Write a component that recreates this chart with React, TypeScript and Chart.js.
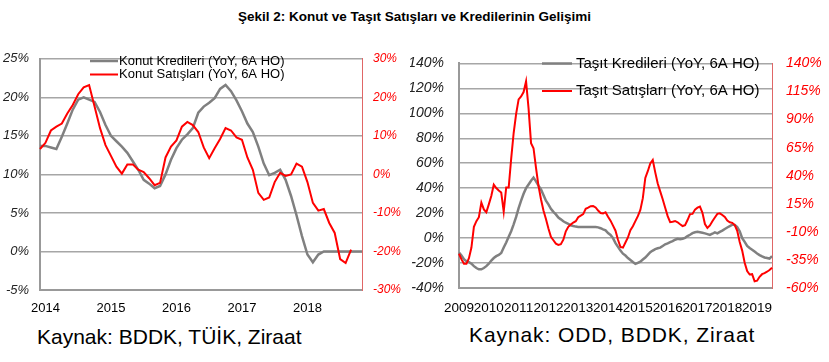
import React, { useEffect, useRef } from 'react';
import { Chart, registerables } from 'chart.js';

Chart.register(...registerables);

const FONT = '"Liberation Sans", Arial, sans-serif';

const titleText = 'Şekil 2: Konut ve Taşıt Satışları ve Kredilerinin Gelişimi';
const leftSource = 'Kaynak: BDDK, TÜİK, Ziraat';
const rightSource = 'Kaynak: ODD, BDDK, Ziraat';

// ---- Left panel (Konut) ----
const konutYears = ['2014', '2015', '2016', '2017', '2018'];
const konutLabels = ['Konut Kredileri (YoY, 6A HO)', 'Konut Satışları (YoY, 6A HO)'];
// monthly, starting 2013-12
const konutKredileri = [
  13.7, 13.7, 13.5, 13.3, 14.9, 16.6, 18.4, 19.7, 20.0, 19.7,
  19.4, 18.1, 16.4, 15.0, 14.3, 13.6, 12.8, 11.7, 10.6, 9.3,
  8.8, 8.2, 8.5, 10.0, 11.9, 13.4, 14.5, 15.2, 16.0, 18.0,
  18.8, 19.3, 19.9, 21.1, 21.6, 20.8, 19.6, 18.2, 16.6, 15.5,
  13.6, 11.4, 9.9, 10.2, 10.6, 9.3, 7.2, 4.7, 2.0, -0.4,
  -1.4, -0.4, 0, 0, 0, 0, 0, 0, 0, 0,
];
const konutSatislari = [
  6.6, 8.2, 11.4, 12.4, 13.2, 15.8, 18.0, 20.8, 22.6, 23.2,
  17.6, 12.0, 7.6, 4.8, 2.0, 0.2, 2.6, 2.6, 1.2, 0.6,
  -1.0, -2.8, -2.2, 4.4, 7.2, 8.8, 12.4, 13.6, 12.8, 11.0,
  7.0, 4.2, 6.8, 9.2, 12.0, 11.4, 9.6, 9.0, 4.4, 1.2,
  -4.8, -6.6, -6.0, -2.0, 0.4, -0.4, 0, 2.8, 2.0, -2.0,
  -7.4, -9.4, -9.0, -12.6, -15.2, -22.0, -23.0, -19.5,
];

// ---- Right panel (Taşıt) ----
const tasitYears = ['2009', '2010', '2011', '2012', '2013', '2014', '2015', '2016', '2017', '2018', '2019'];
const tasitLabels = ['Taşıt Kredileri (YoY, 6A HO)', 'Taşıt Satışları (YoY, 6A HO)'];
// monthly, starting 2009-01
const tasitKredileri = [
  -11.5, -14, -17, -18.5, -19.3, -20.5, -22.5, -24, -25, -25,
  -24, -22.5, -20.5, -18, -16, -14.5, -13.5, -12, -7.5, -3.5,
  1, 5.5, 11, 17, 24, 30, 35.5, 40, 43, 46,
  48.5, 45.5, 42, 39, 34.5, 30, 27, 23.5, 21, 19,
  16.4, 15, 13.5, 12.3, 11.4, 10.3, 9.7, 9.2, 8.9, 8.9,
  8.9, 8.9, 8.9, 8.9, 8.9, 8.9, 8.6, 7.9, 7, 6.2,
  4, 2.5, 0, -4, -7, -10, -12.5, -14, -16, -17.6,
  -19.2, -20.7, -19.8, -18.9, -17.2, -15.6, -13.5, -11.3, -10, -8.8,
  -8.2, -7.6, -6.3, -5, -4.2, -3.2, -2.4, -1.3, -0.6, -1,
  -0.5, 0.2, 1.6, 2.7, 4, 4.7, 5, 4.6, 4.2, 3.8,
  3.2, 2.5, 3.5, 4.6, 3.8, 5, 6, 7.3, 8.5, 9.5,
  10.8, 10.5, 8.8, 5.5, 0, -3, -6.3, -8, -9.3, -10.8,
  -12.3, -13.6, -14.7, -15.5, -15.9, -16.4, -14.5,
];
const tasitSatislari = [
  -29.5, -34.5, -38.5, -38.5, -33.5, -24, -5.5, -0.5, 3, 16,
  10, 7.5, 14.5, 22, 32, 29, 26.8, 25, 8, 29.5,
  29.5, 55, 78, 95, 108, 110.5, 114.5, 124, 100, 69,
  64.5, 47, 31, 19, 9, 1.5, -7, -14.5, -17.5, -20.5,
  -21.6, -21, -17, -9.5, -5.5, -3.5, -1.7, -0.5, 3, 4.5,
  5.8, 10.5, 11.5, 12.8, 13, 11.7, 9, 6.8, 6.4, 7.5,
  3.5, 0, -4.5, -9, -17, -23.5, -24, -19.5, -15, -8.5,
  -5, -0.5, 4, 9.5, 20, 38, 44, 51, 54, 43,
  33, 26, 19, 11.5, 4, -1.4, -1, -0.3, -1.5, -3.2,
  -4.8, -4, 0.5, 5.8, 6, 9.8, 11.5, 12.5, 7, -3,
  -6.5, -4.3, -0.5, 2.8, 6, 6.5, 5, 3.2, 0, -1.5,
  -2, -4, -9, -19, -26.7, -37.5, -45, -48, -47.7, -54,
  -53.5, -50, -47.7, -46.8, -45.5, -44, -42,
];

const GRAY = '#808080';
const RED = '#ff0000';
const GRID = '#a6a6a6';

function monthRange(startYear: number, startMonth: number, count: number): string[] {
  const out: string[] = [];
  let y = startYear;
  let m = startMonth;
  for (let k = 0; k < count; k++) {
    out.push(`${y}-${m < 10 ? '0' + m : m}`);
    m++;
    if (m > 12) { m = 1; y++; }
  }
  return out;
}

const konutMonths = monthRange(2013, 12, 60);
const tasitMonths = monthRange(2009, 1, 127);

type LegendCfg = { x: number; y: number; row: number; len: number; gap: number; size: number };

function legendPlugin(cfg: LegendCfg) {
  return {
    id: 'inlineLegend',
    afterDatasetsDraw(chart: any) {
      const ctx = chart.ctx;
      ctx.save();
      ctx.font = `${cfg.size}px ${FONT}`;
      ctx.textBaseline = 'middle';
      ctx.textAlign = 'left';
      chart.data.datasets.forEach((ds: any, k: number) => {
        const y = cfg.y + k * cfg.row;
        ctx.strokeStyle = ds.borderColor;
        ctx.lineWidth = ds.borderWidth;
        ctx.beginPath();
        ctx.moveTo(cfg.x, y);
        ctx.lineTo(cfg.x + cfg.len, y);
        ctx.stroke();
        ctx.fillStyle = '#000';
        ctx.fillText(ds.label, cfg.x + cfg.len + cfg.gap, y);
      });
      ctx.restore();
    },
  };
}

function xAxis(years: string[], padding: number, height: number, size: number) {
  return {
    type: 'category' as const,
    grid: { display: true, drawOnChartArea: false, drawTicks: false },
    border: { display: true, color: '#999999', width: 2 },
    ticks: {
      autoSkip: false,
      maxRotation: 0,
      minRotation: 0,
      padding,
      color: '#000',
      font: { family: FONT, size },
      callback(this: any, v: any) {
        const l: string = this.getLabelForValue(v);
        const yr = l.slice(0, 4);
        return l.endsWith('-01') && years.includes(yr) ? yr : '';
      },
    },
    afterFit(s: any) { s.height = height; },
  };
}

function yAxis(opts: {
  position: 'left' | 'right'; min: number; max: number; step: number; width: number;
  color: string; size: number; padding: number; grid: boolean; borderColor: string; borderWidth: number;
}) {
  return {
    position: opts.position,
    min: opts.min,
    max: opts.max,
    grid: opts.grid
      ? { color: GRID, lineWidth: 1.5, drawTicks: false }
      : { display: true, drawOnChartArea: false, drawTicks: false },
    border: { display: true, color: opts.borderColor, width: opts.borderWidth },
    ticks: {
      stepSize: opts.step,
      padding: opts.padding,
      color: opts.color,
      font: { family: FONT, size: opts.size, style: 'italic' as const },
      callback: (v: any) => `${v}%`,
    },
    afterFit(s: any) { s.width = opts.width; },
  };
}

export default function App() {
  const leftRef = useRef<HTMLCanvasElement>(null);
  const rightRef = useRef<HTMLCanvasElement>(null);

  useEffect(() => {
    const left = new Chart(leftRef.current!, {
      type: 'line',
      data: {
        labels: konutMonths,
        datasets: [
          { label: konutLabels[0], data: konutKredileri, borderColor: GRAY, borderWidth: 2.5, pointRadius: 0, yAxisID: 'y', order: 2 },
          { label: konutLabels[1], data: konutSatislari, borderColor: RED, borderWidth: 2, pointRadius: 0, yAxisID: 'y1', order: 1 },
        ],
      },
      options: {
        responsive: false,
        animation: false,
        layout: { padding: { top: 11, left: 0, right: 0, bottom: 0 } },
        plugins: { legend: { display: false }, tooltip: { enabled: false } },
        scales: {
          x: xAxis(konutYears, 11, 25, 13),
          y: yAxis({ position: 'left', min: -5, max: 25, step: 5, width: 40, color: '#222', size: 13, padding: 11, grid: true, borderColor: '#999999', borderWidth: 2 }),
          y1: yAxis({ position: 'right', min: -30, max: 30, step: 10, width: 43, color: RED, size: 12, padding: 11, grid: false, borderColor: '#e06666', borderWidth: 1 }),
        },
      } as any,
      plugins: [legendPlugin({ x: 90, y: 21, row: 13.5, len: 28, gap: 1, size: 13 })],
    });

    const right = new Chart(rightRef.current!, {
      type: 'line',
      data: {
        labels: tasitMonths,
        datasets: [
          { label: tasitLabels[0], data: tasitKredileri, borderColor: GRAY, borderWidth: 2.5, pointRadius: 0, yAxisID: 'y', order: 2 },
          { label: tasitLabels[1], data: tasitSatislari, borderColor: RED, borderWidth: 2, pointRadius: 0, yAxisID: 'y1', order: 1 },
        ],
      },
      options: {
        responsive: false,
        animation: false,
        layout: { padding: { top: 10, left: 0, right: 0, bottom: 0 } },
        plugins: { legend: { display: false }, tooltip: { enabled: false } },
        scales: {
          x: xAxis(tasitYears, 12, 27, 13.5),
          y: yAxis({ position: 'left', min: -40, max: 140, step: 20, width: 49, color: '#222', size: 14, padding: 15, grid: true, borderColor: '#999999', borderWidth: 2 }),
          y1: yAxis({ position: 'right', min: -60, max: 140, step: 25, width: 57, color: RED, size: 14, padding: 14, grid: false, borderColor: '#e06666', borderWidth: 1 }),
        },
      } as any,
      plugins: [legendPlugin({ x: 132, y: 23.5, row: 27.5, len: 30, gap: 4, size: 15 })],
    });

    return () => {
      left.destroy();
      right.destroy();
    };
  }, []);

  return (
    <div style={{ position: 'absolute', left: 0, top: 0, width: 829, height: 362, overflow: 'hidden', background: '#fff', fontFamily: FONT }}>
      <div style={{ position: 'absolute', left: 0, top: 8, width: 829, textAlign: 'center', fontWeight: 'bold', fontSize: 13.5, lineHeight: '18px', color: '#000' }}>
        {titleText}
      </div>
      <canvas ref={leftRef} width={405} height={275} style={{ position: 'absolute', left: 0, top: 40, width: 405, height: 275 }} />
      <canvas ref={rightRef} width={419} height={275} style={{ position: 'absolute', left: 410, top: 40, width: 419, height: 275 }} />
      <div style={{ position: 'absolute', left: 37, top: 325, fontSize: 21, lineHeight: '24px', color: '#000', whiteSpace: 'nowrap' }}>
        {leftSource}
      </div>
      <div style={{ position: 'absolute', left: 469, top: 323, fontSize: 21, letterSpacing: '0.9px', lineHeight: '24px', color: '#000', whiteSpace: 'nowrap' }}>
        {rightSource}
      </div>
    </div>
  );
}
